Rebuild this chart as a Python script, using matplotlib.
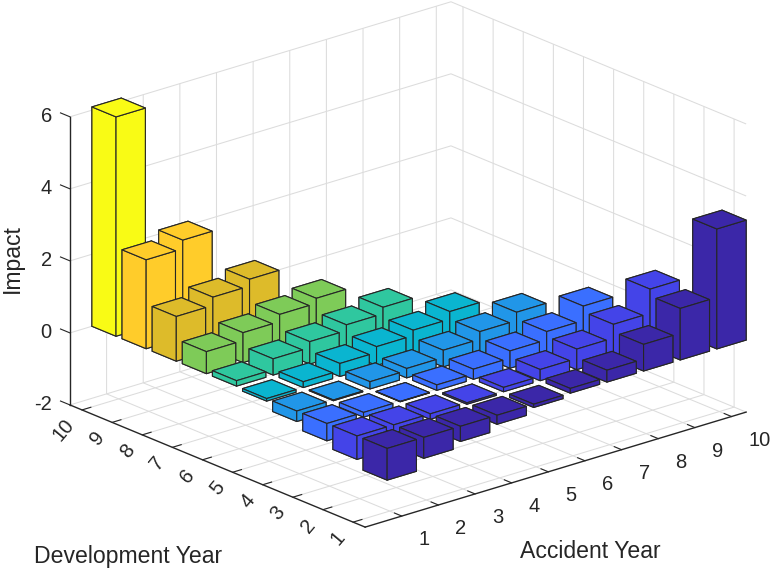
import matplotlib
matplotlib.use("Agg")
import matplotlib.pyplot as plt

plt.rcParams['font.family'] = ['Liberation Sans', 'DejaVu Sans']

accident_years = [1, 2, 3, 4, 5, 6, 7, 8, 9, 10]
development_years = [1, 2, 3, 4, 5, 6, 7, 8, 9, 10]
impact_ticks = [-2, 0, 2, 4, 6]
impact_labels = ['-2', '0', '2', '4', '6']

# impact by development year 1, 2, ... for each accident year (triangle)
ay1 = [-0.88, -0.65, -0.48, -0.29, -0.07, 0.15, 0.61, 1.24, 2.47, 6.09]
ay2 = [-0.58, -0.23, -0.13, -0.02, 0.16, 0.45, 0.83, 1.47, 2.71]
ay3 = [-0.42, -0.15, -0.01, 0.20, 0.36, 0.62, 1.03, 1.66]
ay4 = [-0.25, -0.04, 0.15, 0.26, 0.52, 0.78, 1.17]
ay5 = [-0.09, 0.12, 0.28, 0.46, 0.67, 0.96]
ay6 = [0.13, 0.31, 0.48, 0.67, 0.88]
ay7 = [0.33, 0.57, 0.71, 0.90]
ay8 = [0.74, 0.95, 1.11]
ay9 = [1.43, 1.62]
ay10 = [3.33]
impact = [ay1, ay2, ay3, ay4, ay5, ay6, ay7, ay8, ay9, ay10]

# one colour per development year
dev_colors = ['#3B27A8', '#4444E8', '#3A6FFF', '#2196E8', '#0AB5D0',
              '#2FC79F', '#7ECB58', '#DDBB2A', '#FFCC2A', '#F9FB15']

text_color = '#262626'
width = 0.8

fig = plt.figure(figsize=(7.74, 5.7), dpi=100)
ax = fig.add_axes([37.5 / 774, -65 / 570, 721.6 / 774, 721.6 / 570],
                  projection='3d', proj_type='ortho')
ax.computed_zorder = False
ax.patch.set_alpha(0)
ax.view_init(elev=20.7, azim=-130.5)
ax.set_box_aspect((501, 454.5, 308))

# back to front so nearer bars cover the ones behind
for i in range(len(impact) - 1, -1, -1):
    row = impact[i]
    for j in range(len(row) - 1, -1, -1):
        ax.bar3d(accident_years[i] - width / 2, development_years[j] - width / 2, 0,
                 width, width, row[j], color=dev_colors[j], shade=False,
                 edgecolor='#262626', linewidth=0.8)

ax.set_xlim(0, 10.4, view_margin=0)
ax.set_ylim(0.6, 10.4, view_margin=0)
ax.set_zlim(-2, 6, view_margin=0)

ax.set_xticks(accident_years)
ax.set_yticks(development_years)
ax.set_zticks(impact_ticks)
ax.set_zticklabels(impact_labels)

for axis in (ax.xaxis, ax.yaxis, ax.zaxis):
    axis.set_pane_color((1, 1, 1, 0))
    axis.pane.set_edgecolor((1, 1, 1, 0))
    axis.line.set_color(text_color)
    axis.line.set_linewidth(1.0)
    axis._axinfo['grid']['color'] = '#DCDCDC'
    axis._axinfo['grid']['linewidth'] = 0.75
    axis._axinfo['tick']['inward_factor'] = 0
    axis._axinfo['tick']['color'] = text_color

ax.xaxis.set_ticks_position('lower')
ax.yaxis.set_ticks_position('lower')
# z axis sits on the left corner, its ticks run along development year
ax.zaxis.set_ticks_position('upper')
ax.zaxis._get_tickdir = lambda pos: 1

ax.xaxis._axinfo['tick']['outward_factor'] = 0.31
ax.yaxis._axinfo['tick']['outward_factor'] = 0.29
ax.zaxis._axinfo['tick']['outward_factor'] = 0.4

ax.tick_params(axis='both', labelsize=14.5, labelcolor=text_color, color=text_color, width=0.8)
ax.tick_params(axis='z', labelsize=14.5, labelcolor=text_color, color=text_color, width=0.8, pad=-0.75)
ax.tick_params(axis='x', pad=7.5)
ax.tick_params(axis='y', pad=0, labelrotation=50)
plt.setp(ax.get_xticklabels(), ha='left', va='center')
plt.setp(ax.get_yticklabels(), ha='right', va='center', rotation_mode='anchor')
plt.setp(ax.get_zticklabels(), ha='right', va='center')

fig.text(128 / 774, 1 - 557 / 570, 'Development Year', fontsize=16.6, color=text_color,
         ha='center', va='center')
fig.text(590 / 774, 1 - 552 / 570, 'Accident Year', fontsize=16.6, color=text_color,
         ha='center', va='center')
fig.text(12 / 774, 1 - 259 / 570, 'Impact', fontsize=16.6, color=text_color,
         rotation=90, ha='center', va='center')

fig.savefig('out.png', dpi=100)
